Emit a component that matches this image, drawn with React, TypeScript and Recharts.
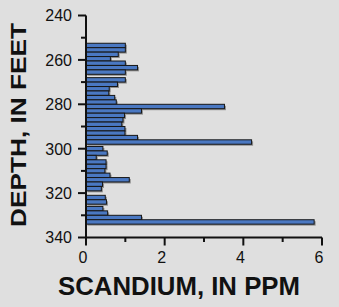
import React from 'react';
import { BarChart, Bar, XAxis, YAxis } from 'recharts';

const depthFeet = [
  253.5, 255.5, 257.5, 259.5, 261.5, 263.5, 265.5,
  269, 271, 273, 275, 277, 279,
  281, 283, 285, 287, 289, 291, 293, 295, 297,
  300, 302, 304, 306, 308, 310, 312, 314, 316, 318,
  322, 324, 327, 329, 331, 333,
];
const scandiumPpm = [
  1.0, 1.0, 0.82, 0.62, 1.0, 1.31, 1.0,
  1.0, 0.8, 0.59, 0.58, 0.73, 0.77,
  3.52, 1.41, 0.98, 0.94, 0.91, 0.99, 0.99, 1.31, 4.21,
  0.43, 0.54, 0.26, 0.51, 0.51, 0.48, 0.61, 1.1, 0.42, 0.39,
  0.49, 0.52, 0.43, 0.55, 1.41, 5.8,
];
const depthTicks = [240, 250, 260, 270, 280, 290, 300, 310, 320, 330, 340];
const scandiumTicks = [0, 1, 2, 3, 4, 5, 6];

const data = depthFeet.map((d, i) => ({ depth: d, scandium: scandiumPpm[i] }));

const FONT = '"Liberation Sans", Arial, Helvetica, sans-serif';
const INK = '#111111';

const BarShape = (props: any) => {
  const { x, y, width, height } = props;
  if (x == null || y == null || !width) return null;
  return (
    <g>
      <rect x={x + 1.5} y={y + 1.5} width={width} height={height} fill="#8e8e8e" />
      <rect x={x} y={y} width={width} height={height} fill="#4a78c2" stroke="#161616" strokeWidth={1} />
    </g>
  );
};

const YTick = (props: any) => {
  const { x, y, payload } = props;
  const major = payload.value % 20 === 0;
  return (
    <g>
      <line x1={x - (major ? 8 : 5)} x2={x} y1={y} y2={y} stroke={INK} strokeWidth={2} />
      {major && (
        <text x={x - 14} y={y + 5.8} textAnchor="end" fontSize={16} fontFamily={FONT} fill={INK}>
          {payload.value}
        </text>
      )}
    </g>
  );
};

const XTick = (props: any) => {
  const { x, y, payload } = props;
  const major = payload.value % 2 === 0;
  return (
    <g>
      <line x1={x} x2={x} y1={y} y2={y + (major ? 8 : 4.5)} stroke={INK} strokeWidth={2} />
      {major && (
        <text x={x - 3} y={y + 25.2} textAnchor="middle" fontSize={16} fontFamily={FONT} fill={INK}>
          {payload.value}
        </text>
      )}
    </g>
  );
};

export default function App() {
  return (
    <div style={{ position: 'absolute', left: 0, top: 0, width: 339, height: 307, background: '#dfdfdf' }}>
      <BarChart
        width={339}
        height={307}
        data={data}
        layout="vertical"
        margin={{ top: 15.5, right: 17, bottom: 0, left: 0 }}
        barCategoryGap={0}
      >
        <XAxis
          type="number"
          dataKey="scandium"
          domain={[0, 6]}
          ticks={scandiumTicks}
          interval={0}
          height={69.5}
          tickSize={0}
          tickMargin={0}
          tickLine={false}
          axisLine={{ stroke: INK, strokeWidth: 2 }}
          tick={<XTick />}
          allowDataOverflow
        />
        <YAxis
          type="number"
          dataKey="depth"
          domain={[240, 340]}
          ticks={depthTicks}
          interval={0}
          width={86}
          tickSize={0}
          tickMargin={0}
          tickLine={false}
          axisLine={{ stroke: INK, strokeWidth: 2 }}
          tick={<YTick />}
          allowDataOverflow
        />
        <Bar dataKey="scandium" barSize={4.4} shape={<BarShape />} isAnimationActive={false} />
      </BarChart>
      <svg width={339} height={307} style={{ position: 'absolute', left: 0, top: 0, pointerEvents: 'none' }}>
        <text
          x={58}
          y={295}
          fontSize={25.5}
          fontWeight="bold"
          fontFamily={FONT}
          fill={INK}
          textLength={242}
          lengthAdjust="spacingAndGlyphs"
        >
          SCANDIUM, IN PPM
        </text>
        <text
          transform="translate(26,125) rotate(-90)"
          textAnchor="middle"
          fontSize={22}
          fontWeight="bold"
          fontFamily={FONT}
          fill={INK}
          textLength={204}
          lengthAdjust="spacingAndGlyphs"
        >
          DEPTH, IN FEET
        </text>
      </svg>
    </div>
  );
}
